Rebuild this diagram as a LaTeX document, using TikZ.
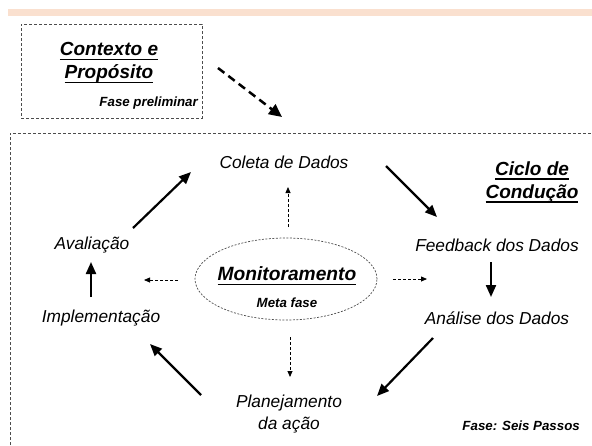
\documentclass[tikz,border=0pt]{standalone}
\usepackage{fontspec}
\setmainfont{Liberation Sans}
\usetikzlibrary{positioning}
\usetikzlibrary{arrows.meta,shapes.geometric}

\definecolor{faixa}{RGB}{250,224,207}

\newcommand{\sublinha}[1]{\setbox0\hbox{#1}\rlap{\rule[-4.3pt]{\wd0}{1.3pt}}\box0}

\tikzset{
  passo/.style={font=\fontsize{17.3}{22}\selectfont\itshape, align=center, inner sep=0pt},
  titulo/.style={font=\fontsize{19}{23}\selectfont\bfseries\itshape, align=center, inner sep=0pt},
  fase/.style={font=\fontsize{13.3}{16}\selectfont\bfseries\itshape, inner sep=0pt},
  ciclo/.style={line width=2.2pt, -{Triangle[length=12pt,width=10pt]}},
  meta/.style={line width=0.8pt, dash pattern=on 3pt off 2pt, -{Triangle[length=6pt,width=5pt]}},
  moldura/.style={line width=0.8pt, draw=black!70, dash pattern=on 3pt off 2pt},
}

\begin{document}
\begin{tikzpicture}[x=1pt,y=-1pt]
\useasboundingbox (0,0) rectangle (592,445);

\fill[faixa] (8,9) rectangle (592,16);

% Fase preliminar

\node[rectangle, moldura, minimum width=181pt, minimum height=94pt] (ctxbox) at (111.5,71) {};

\node[titulo] (contexto) at (109,63) {\sublinha{Contexto e}\\\sublinha{Propósito}};

\node[fase, anchor=east] (prelim) at (198,103) {Fase preliminar};

% Ciclo de conducao

\draw[moldura] (10,445) |- (592,133);

\node[passo] (coleta) at (284,162) {Coleta de Dados};

\node[titulo] (ciclo) at (532,182) {\sublinha{Ciclo de}\\\sublinha{Condução}};

\node[passo] (feedback) at (497,245) {Feedback dos Dados};

\node[passo] (analise) at (497,318) {Análise dos Dados};

\node[passo] (planej) at (289,414) {Planejamento\\da ação};

\node[passo] (implem) at (101,318) {Implementação};

\node[passo] (avaliacao) at (92,245) {Avaliação};

\node[fase, anchor=east] (seis) at (580,426) {Fase: Seis Passos};

\draw[line width=2.5pt, dash pattern=on 8pt off 5pt, -{Triangle[length=13pt,width=12pt]}] ([shift={(106.5,-3)}]ctxbox.center) -- ([shift={(-2,-45)}]coleta.center);

\draw[ciclo] ([shift={(102,4)}]coleta.center) -- ([shift={(-60,-28)}]feedback.center);
\draw[ciclo] ([shift={(-6,17)}]feedback.center) -- ([shift={(-6,-21)}]analise.center);
\draw[ciclo] ([shift={(-64,20)}]analise.center) -- ([shift={(88,-18)}]planej.center);
\draw[ciclo] ([shift={(-88,-19)}]planej.center) -- ([shift={(49,26)}]implem.center);
\draw[ciclo] ([shift={(-10,-21)}]implem.center) -- ([shift={(-1,17)}]avaliacao.center);
\draw[ciclo] ([shift={(41,-17)}]avaliacao.center) -- ([shift={(-93,10)}]coleta.center);

% Meta fase

\node[ellipse, draw=black!70, dash pattern=on 2pt off 1.5pt, line width=0.7pt, minimum width=182pt, minimum height=82pt] (monit) at (286,279) {};

\node[font=\fontsize{19.2}{23}\selectfont\bfseries\itshape, inner sep=0pt] (montxt) at (287,276) {\sublinha{Monitoramento}};

\node[fase] (metafase) at (287,303) {Meta fase};

\draw[meta] ([shift={(2,-52)}]monit.center) -- ([shift={(4,25)}]coleta.center);
\draw[meta] ([shift={(4,58)}]monit.center) -- ([shift={(1,-37)}]planej.center);
\draw[meta] ([shift={(-108,1)}]monit.center) -- ([shift={(52,35)}]avaliacao.center);
\draw[meta] ([shift={(107,0)}]monit.center) -- ([shift={(-70,34)}]feedback.center);

\end{tikzpicture}
\end{document}
